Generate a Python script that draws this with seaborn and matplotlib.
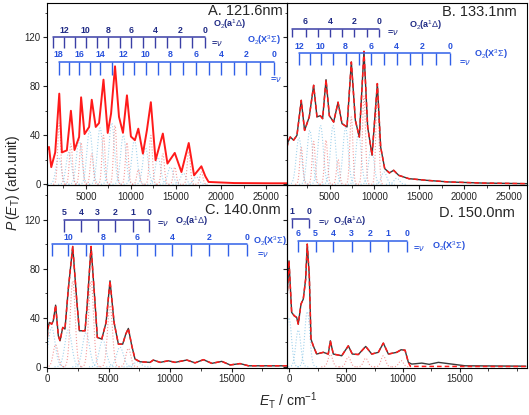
import numpy as np
import matplotlib
matplotlib.use("Agg")
import matplotlib.pyplot as plt
from matplotlib.ticker import MultipleLocator
import seaborn as sns

# Curves (E_T in cm-1, P(E_T) in arb. units)
A_x = [700, 920, 1170, 1610, 2060, 2350, 2900, 3350, 3750, 4260, 4480, 4860, 5370, 5660, 6100,
       6470, 6960, 7430, 7800, 8240, 8680, 9120, 9560, 10000, 10440, 10820, 11330, 11770,
       12210, 12730, 13540, 14050, 14860, 15600, 16410, 17000, 17810, 18250, 18610, 21450,
       25540, 27300]
A_y = [28, 30.5, 14, 26, 74, 26, 27.7, 60, 28, 38.6, 71, 41, 46.8, 69, 46.8,
       50, 85.4, 41.9, 57.7, 96.3, 55, 42, 72.6, 39, 36, 45.4, 25, 44,
       67, 19.6, 41.4, 16.9, 25.6, 10, 33.7, 7.3, 14.7, 6.5, 1.9, 1.0,
       0.8, 0.8]

B_x = [250, 360, 610, 990, 1360, 1840, 2210, 2730, 3220, 3590, 3960, 4220, 4600, 4970, 5450,
       5940, 6380, 6940, 7420, 7870, 8310, 8830, 9240, 9730, 10320, 10690, 11140, 11660,
       12140, 12700, 13820, 15680, 18280, 22010, 27000]
B_y = [30, 34.5, 38.6, 36, 40, 68.5, 44, 55, 80.8, 55, 56, 53.6, 85.4, 56, 50.8,
       67, 49.5, 46.8, 99.8, 52.2, 38.6, 108.5, 46.8, 23.7, 82.2, 30.4, 12.8, 9.3,
       11.4, 7.3, 4.6, 3.3, 1.9, 1.0, 0.5]

C_x = [0, 60, 190, 380, 510, 700, 920, 1060, 1280, 1460, 1730, 2090, 2410, 2630, 3090, 3280,
       3580, 3900, 4090, 4450, 4800, 5120, 5450, 5800, 6150, 6400, 6610, 6890, 7150, 7560,
       8370, 8640, 9190, 9860, 10400, 11360, 12030, 12710, 13390, 14200, 14880, 15690,
       16370, 19500]
C_y = [18, 30.8, 36.2, 34.8, 37.5, 50.3, 25.3, 21.2, 32.1, 30.8, 63.4, 98.2, 55.2, 29.4, 29.4, 52.5,
       98.2, 52.5, 24, 22.6, 36.2, 70.2, 36.2, 18.5, 18.5, 26.7, 31.3, 17.1, 6.3, 4.1,
       3.6, 5.5, 3.6, 4.9, 3.6, 5.5, 3.2, 5.8, 2.8, 4.4, 1.5, 2.6,
       0.8, 0.8]

D_x = [-200, -25, 210, 440, 650, 790, 1030, 1230, 1440, 1580, 1760, 1910, 2110, 2410, 2990,
       3430, 3610, 3870, 4610, 5190, 5540, 6070, 6720, 7250, 7830, 8270, 8710, 9450, 9830,
       10180, 10470, 10770, 11650, 12300, 13110, 15460, 20800]
D_y = [55.8, 86.5, 44.4, 41.6, 40.3, 34.8, 51.2, 55.2, 71.6, 100.1, 74.3, 22.6, 17.1, 10.4, 11.8,
       10.4, 21.2, 10.4, 9, 17.1, 10.4, 10, 16.6, 10.4, 11.8, 19.3, 10.4, 11.8, 13.9,
       13.5, 3.6, 2.2, 3, 2, 3.6, 0.8, 0.5]
# fit in D stops at the last peak
D_fit_x = D_x[:31] + [10650, 20800]
D_fit_y = D_y[:31] + [0.3, 0.2]

# Gaussian components (centre, height) shown dotted under the curves
A_blue_c = [1990, 3120, 4260, 5420, 6580, 7870, 9160, 10390, 11620, 13000, 14380, 15810, 17250]
A_blue_h = [22, 26, 36, 44, 46, 50, 40, 36, 30, 22, 14, 9, 6]
A_red_c = [2060, 3350, 4480, 5660, 6960, 8240, 9560, 10820, 12210, 13540, 14860, 16410, 17810]
A_red_h = [50, 33, 34, 25, 40, 48, 34, 12, 40, 25, 14, 27, 10]
B_blue_c = [1580, 2790, 3990, 5390, 6780, 8220, 9650, 11070, 12480]
B_blue_h = [38, 44, 48, 48, 46, 42, 30, 10, 5]
B_red_c = [1840, 3220, 4600, 5940, 7420, 8830, 10320]
B_red_h = [30, 35, 36, 20, 55, 72, 72]
C_blue_c = [380, 1730, 3170, 4530, 5930, 7340]
C_blue_h = [32, 30, 28, 22, 16, 4]
C_red_c = [700, 2090, 3580, 5120, 6610]
C_red_h = [18, 70, 70, 50, 15]
D_blue_c = [-25, 790, 1580]
D_blue_h = [40, 30, 45]
D_red_c = [3610, 5190, 6720, 8270, 9830]
D_red_h = [10, 8, 7, 9, 5]

# Vibrational combs: positions of v = 0, 1, 2, ...
A_a_pos = [18170, 16780, 15410, 14050, 12700, 11370, 10050, 8750, 7500, 6250, 5000, 3790, 2570, 1360]
A_x_pos = [25900, 24330, 22770, 21390, 20010, 18630, 17250, 15810, 14380, 13000, 11620, 10390,
           9160, 7870, 6580, 5420, 4260, 3120, 1990]
B_a_pos = [10510, 9130, 7720, 6420, 5040, 3700, 2320, 840]
B_x_pos = [18440, 16900, 15350, 13920, 12480, 11070, 9650, 8220, 6780, 5390, 3990, 2790, 1580]
C_a_pos = [8320, 6970, 5530, 4120, 2770, 1380]
C_x_pos = [16230, 14700, 13190, 11680, 10160, 8780, 7340, 5930, 4530, 3170, 1730, 380]
D_a_pos = [1760, 210]
D_x_pos = [10330, 8710, 7100, 5490, 3870, 2320, 790]

titles = ["A. 121.6nm", "B. 133.1nm", "C. 140.0nm", "D. 150.0nm"]

# Style
sns.set_style("ticks")
plt.rcParams["font.family"] = ["Liberation Sans", "DejaVu Sans"]
plt.rcParams["mathtext.fontset"] = "custom"
plt.rcParams["mathtext.rm"] = "Liberation Sans"
plt.rcParams["mathtext.it"] = "Liberation Sans:italic"
plt.rcParams["mathtext.bf"] = "Liberation Sans:bold"

RED = "#ff1a1a"
EXP = "#3a3a3a"
LBLUE = "#8cc8e8"
A_COL = "#3a3fa6"
A_TXT = "#1f2a85"
X_COL = "#3060e8"
X_TXT = "#2650dc"


def draw_components(ax, centres, heights, sigma, color):
    for c, h in zip(centres, heights):
        xs = np.linspace(c - 4 * sigma, c + 4 * sigma, 120)
        ax.plot(xs, h * np.exp(-0.5 * ((xs - c) / sigma) ** 2), ls=":", lw=0.8, color=color, alpha=0.8)


def draw_comb(ax, pos, y, length, labelled, color, txtcolor):
    ax.plot([min(pos), max(pos)], [y, y], color=color, lw=1.1)
    ax.vlines(pos, y - length, y, color=color, lw=1.0)
    for v, p in enumerate(pos):
        if v in labelled:
            ax.text(p, y + 2.2, str(v), ha="center", va="bottom", fontsize=6.3,
                    fontweight="bold", color=txtcolor)


def state_text(ax, x, y, s, color):
    ax.text(x, y, s, ha="left", va="center", fontsize=6.5, fontweight="bold", color=color)


fig, axes = plt.subplots(2, 2, figsize=(5.29, 4.15), dpi=100, sharey=True)
fig.subplots_adjust(left=47 / 529, right=527 / 529, top=1 - 3 / 415, bottom=1 - 368 / 415,
                    hspace=0, wspace=0)
axA, axB, axC, axD = axes[0, 0], axes[0, 1], axes[1, 0], axes[1, 1]

# Panel A
draw_components(axA, A_blue_c, A_blue_h, 300, LBLUE)
draw_components(axA, A_red_c, A_red_h, 170, "#f08080")
sns.lineplot(x=A_x, y=A_y, ax=axA, color=RED, lw=1.4)
axA.set_xlim(700, 27300)

# Panel B
draw_components(axB, B_blue_c, B_blue_h, 300, LBLUE)
draw_components(axB, B_red_c, B_red_h, 170, "#f08080")
sns.lineplot(x=B_x, y=B_y, ax=axB, color=EXP, lw=1.0)
sns.lineplot(x=B_x, y=B_y, ax=axB, color=RED, lw=1.1, linestyle=(0, (3, 2)))
axB.set_xlim(250, 27000)

# Panel C
draw_components(axC, C_blue_c, C_blue_h, 280, LBLUE)
draw_components(axC, C_red_c, C_red_h, 200, "#f08080")
sns.lineplot(x=C_x, y=C_y, ax=axC, color=EXP, lw=1.0)
sns.lineplot(x=C_x, y=C_y, ax=axC, color=RED, lw=1.1, linestyle=(0, (3, 2)))
axC.set_xlim(0, 19500)

# Panel D
draw_components(axD, D_blue_c, D_blue_h, 220, LBLUE)
draw_components(axD, D_red_c, D_red_h, 200, "#f08080")
sns.lineplot(x=D_x, y=D_y, ax=axD, color=EXP, lw=1.0)
sns.lineplot(x=D_fit_x, y=D_fit_y, ax=axD, color=RED, lw=1.1, linestyle=(0, (3, 2)))
axD.set_xlim(-200, 20900)

# Combs
draw_comb(axA, A_a_pos, 120, 9, range(0, 14, 2), A_COL, A_TXT)
draw_comb(axA, A_x_pos, 100, 11, range(0, 19, 2), X_COL, X_TXT)
state_text(axA, 19100, 130.5, r"O$_2$(a$^1\Delta$)", A_TXT)
state_text(axA, 18900, 115, r"=$\nu$", A_TXT)
state_text(axA, 22900, 117.5, r"O$_2$(X$^3\Sigma$)", X_TXT)
state_text(axA, 25400, 85.5, r"=$\nu$", X_TXT)

draw_comb(axB, B_a_pos, 127, 7, range(0, 8, 2), A_COL, A_TXT)
draw_comb(axB, B_x_pos, 107, 9.5, range(0, 13, 2), X_COL, X_TXT)
state_text(axB, 11440, 124.3, r"=$\nu$", A_TXT)
state_text(axB, 13860, 129.7, r"O$_2$(a$^1\Delta$)", A_TXT)
state_text(axB, 19440, 99.8, r"=$\nu$", X_TXT)
state_text(axB, 21110, 106.6, r"O$_2$(X$^3\Sigma$)", X_TXT)

draw_comb(axC, C_a_pos, 120, 10, range(0, 6), A_COL, A_TXT)
draw_comb(axC, C_x_pos, 100, 9.5, range(0, 11, 2), X_COL, X_TXT)
state_text(axC, 8920, 117, r"=$\nu$", A_TXT)
state_text(axC, 10410, 118.6, r"O$_2$(a$^1\Delta$)", A_TXT)
state_text(axC, 17050, 91.4, r"=$\nu$", X_TXT)
state_text(axC, 16770, 102.8, r"O$_2$(X$^3\Sigma$)", X_TXT)

draw_comb(axD, D_a_pos, 121, 7.3, range(0, 2), A_COL, A_TXT)
draw_comb(axD, D_x_pos, 103, 9.5, range(0, 7), X_COL, X_TXT)
state_text(axD, 2500, 117.8, r"=$\nu$", A_TXT)
state_text(axD, 3870, 118.6, r"O$_2$(a$^1\Delta$)", A_TXT)
state_text(axD, 10860, 96.9, r"=$\nu$", X_TXT)
state_text(axD, 12530, 98.2, r"O$_2$(X$^3\Sigma$)", X_TXT)

# Axes cosmetics
title_pos = [(0.983, 0.958), (0.958, 0.95), (0.975, 0.866), (0.95, 0.851)]
for ax, title, (tx, ty) in zip([axA, axB, axC, axD], titles, title_pos):
    ax.set_ylim(-1, 148)
    ax.set_facecolor("none")
    ax.xaxis.set_minor_locator(MultipleLocator(2500))
    ax.yaxis.set_major_locator(MultipleLocator(40))
    ax.yaxis.set_minor_locator(MultipleLocator(20))
    ax.tick_params(which="major", direction="out", length=3, width=0.8, labelsize=7, pad=1.5)
    ax.tick_params(which="minor", direction="out", length=1.8, width=0.6)
    for sp in ax.spines.values():
        sp.set_visible(True)
        sp.set_linewidth(0.8)
        sp.set_color("black")
    ax.set_xlabel("")
    ax.set_ylabel("")
    ax.text(tx, ty, title, transform=ax.transAxes, ha="right", va="center", fontsize=10.5)

axB.tick_params(labelleft=False)
axD.tick_params(labelleft=False)
# top panels have no 0 label, bottom panels stop at 15000
for ax in [axA, axB]:
    ax.set_xticks([5000, 10000, 15000, 20000, 25000])
for ax in [axC, axD]:
    ax.set_xticks([0, 5000, 10000, 15000])

fig.text(0.024, 0.56, r"$P\,(E_{\rm T})$ (arb.unit)", rotation=90, ha="center", va="center", fontsize=10)
fig.text(0.545, 0.035, r"$E_{\rm T}$ / cm$^{-1}$", ha="center", va="center", fontsize=10)

fig.savefig("out.png", dpi=100, facecolor="white")
